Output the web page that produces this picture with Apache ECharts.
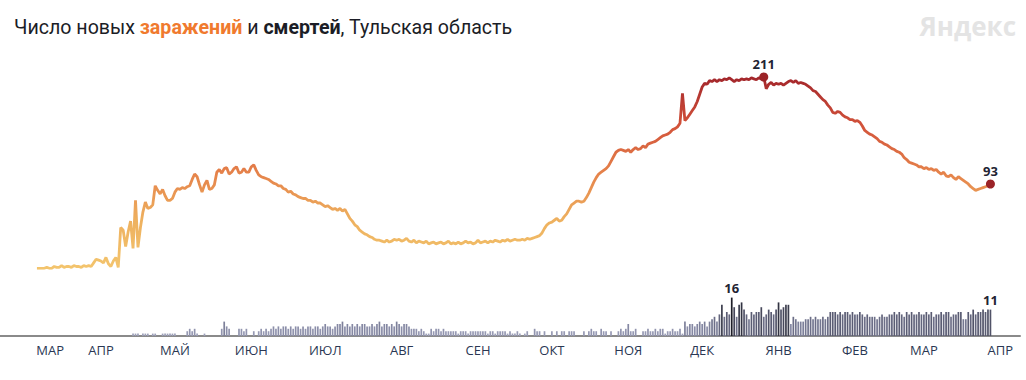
<!DOCTYPE html>
<html><head><meta charset="utf-8">
<script src="https://cdn.jsdelivr.net/npm/echarts@6/dist/echarts.min.js"></script>
<style>html,body{margin:0;padding:0;background:#fff}#c{width:1026px;height:380px}</style>
</head><body><div id="c"></div>
<script>
// ---- axis range (daily categories) ----
const axisStart = '2020-02-20';
const axisEnd = '2021-04-09';

// ---- new infections per day, starting infectionsStart ----
const infectionsStart = '2020-03-06';
const infections = [
  0,0,0,0,1,0,0,2,1,1,
  3,1,2,2,1,3,2,2,1,3,
  2,3,2,6,10,9,8,6,12,5,
  2,8,12,1,45,42,24,40,52,22,
  75,23,45,62,73,66,67,70,91,86,
  82,87,80,75,75,77,84,88,87,89,
  88,90,91,98,104,101,92,84,92,97,
  87,88,92,106,109,105,110,111,104,106,
  110,112,105,106,110,106,106,112,114,108,
  103,101,100,99,98,96,94,93,91,91,
  88,87,84,85,82,81,79,78,77,77,
  75,75,73,74,72,72,70,68,69,67,
  65,66,64,66,63,65,60,55,52,48,
  46,42,40,38,37,35,34,32,31,31,
  30,29,31,29,30,32,31,32,30,31,
  33,30,29,31,28,30,29,28,30,27,
  28,29,27,28,29,27,28,30,27,28,
  27,29,27,28,30,28,29,27,28,31,
  28,29,30,28,30,29,31,30,29,31,
  30,32,30,31,32,31,31,32,31,33,
  32,33,34,35,36,39,44,48,50,51,
  53,55,52,53,57,60,65,70,72,74,
  74,73,74,78,83,89,95,100,104,106,
  108,110,113,118,123,128,130,131,130,129,
  131,128,131,133,131,132,135,133,137,138,
  139,140,142,144,146,147,148,150,153,154,
  156,160,193,163,166,170,174,178,184,192,
  200,204,203,207,206,208,206,208,207,209,
  208,210,208,206,208,207,209,208,209,208,
  210,209,208,210,209,211,198,203,205,202,
  204,203,204,202,204,206,207,205,207,204,
  205,204,203,201,199,196,195,192,189,186,
  184,180,177,172,171,173,172,169,167,166,
  164,164,162,163,161,157,152,150,148,147,
  145,143,140,139,137,136,134,132,131,129,
  128,126,122,120,117,116,115,114,112,112,
  110,111,109,110,108,109,106,104,106,102,
  101,103,100,98,101,99,97,95,93,90,
  88,86,87,88,89,90,91,93
];

// ---- deaths per day, starting deathsStart ----
const deathsStart = '2020-04-14';
const deaths = [
  1,1,1,0,1,1,1,0,1,1,
  0,0,1,1,1,1,1,1,0,0,
  0,0,2,3,2,3,1,0,0,1,
  0,0,0,0,0,0,3,6,4,3,
  0,0,0,3,3,2,3,0,0,2,
  0,2,3,2,3,2,3,4,3,4,
  3,4,4,3,4,3,4,4,3,4,
  3,4,4,3,4,4,3,4,5,4,
  4,3,4,5,5,6,4,5,4,5,
  4,5,4,5,5,4,4,5,4,5,
  6,4,5,5,4,5,4,6,5,4,
  5,5,4,3,3,3,2,3,2,1,
  1,3,2,3,3,2,3,2,2,2,
  2,2,1,2,2,2,1,2,2,2,
  2,2,2,2,1,2,2,1,2,2,
  2,2,1,2,1,1,2,1,0,1,
  2,0,0,3,2,2,0,2,0,0,
  2,0,2,0,2,2,0,2,2,2,
  0,0,0,2,0,2,3,2,2,0,
  3,2,2,0,2,0,0,2,3,2,
  3,5,2,2,3,0,0,2,2,3,
  2,2,3,2,3,3,1,2,2,3,
  2,2,3,1,6,4,5,5,4,5,
  6,5,6,4,6,7,8,6,9,13,
  8,10,9,16,12,8,13,14,11,9,
  7,10,9,10,10,12,8,9,11,10,
  9,11,14,11,12,13,13,5,8,7,
  6,6,6,7,7,8,7,8,7,7,
  8,7,8,10,10,10,9,10,9,10,
  10,9,10,9,9,10,9,8,9,8,
  8,8,7,8,9,8,8,9,9,10,
  9,10,9,8,10,9,10,9,9,10,
  9,9,10,9,10,8,9,9,10,9,
  10,10,8,9,9,10,10,7,7,10,
  9,11,9,10,10,11,10,11,11
];

// ---- month tick labels ----
const monthTicks = ['2020-03-01','2020-04-01','2020-05-01','2020-06-01','2020-07-01','2020-08-01','2020-09-01',
  '2020-10-01','2020-11-01','2020-12-01','2021-01-01','2021-02-01','2021-03-01','2021-04-01'];
const monthLabels = ['МАР','АПР','МАЙ','ИЮН','ИЮЛ','АВГ','СЕН','ОКТ','НОЯ','ДЕК','ЯНВ','ФЕВ','МАР','АПР'];

function dayList(a, b) {
  const out = [];
  let t = Date.parse(a + 'T00:00:00Z');
  const e = Date.parse(b + 'T00:00:00Z');
  while (t <= e) { out.push(new Date(t).toISOString().slice(0, 10)); t += 86400000; }
  return out;
}
const days = dayList(axisStart, axisEnd);
function alignTo(start, values) {
  const off = days.indexOf(start);
  return days.map((d, i) => (i >= off && i - off < values.length) ? values[i - off] : null);
}

const infData = alignTo(infectionsStart, infections);
const infMax = Math.max(...infections);
const infMaxDay = days[days.indexOf(infectionsStart) + infections.indexOf(infMax)];
const infLast = infections[infections.length - 1];
const infLastDay = days[days.indexOf(infectionsStart) + infections.length - 1];

const dMax = Math.max(...deaths);
const dMaxI = days.indexOf(deathsStart) + deaths.indexOf(dMax);
const dLastI = days.indexOf(deathsStart) + deaths.length - 1;
const labelStyle = { show: true, position: 'top', distance: 3, color: '#1f2433', fontWeight: 'bold', fontSize: 13, fontFamily: 'Open Sans' };
const deathData = alignTo(deathsStart, deaths).map((v, i) =>
  (i === dMaxI || i === dLastI) ? { value: v, label: labelStyle } : v);

const chart = echarts.init(document.getElementById('c'), null, { renderer: 'svg' });
chart.setOption({
  animation: false,
  backgroundColor: '#fff',
  title: [{
    left: 9, top: 12,
    text: '{n|Число новых }{o|заражений}{n| и }{b|смертей}{n|, Тульская область}',
    textStyle: {
      fontWeight: 'normal',
      rich: {
        n: { fontSize: 19.6, color: '#1b1d26', fontWeight: 'normal', fontFamily: 'Roboto' },
        o: { fontSize: 19.6, color: '#f07a2e', fontWeight: 'bold', fontFamily: 'Roboto' },
        b: { fontSize: 19.6, color: '#1b1d26', fontWeight: 'bold', fontFamily: 'Roboto' }
      }
    }
  }, {
    right: 5, top: 8,
    text: 'Яндекс',
    textStyle: { fontSize: 26, color: '#e4e4e4', fontWeight: 'bold', fontFamily: 'Open Sans' }
  }],
  grid: [
    { left: 0, right: 6, top: 77, bottom: 111.7 },
    { left: 0, right: 6, top: 297.6, bottom: 44 }
  ],
  xAxis: [
    { type: 'category', gridIndex: 0, data: days, boundaryGap: false, show: false },
    { type: 'category', gridIndex: 1, data: days, boundaryGap: false,
      axisLine: { show: true, lineStyle: { color: '#8a8a8a', width: 2 } },
      axisTick: { show: false },
      axisLabel: {
        interval: (i, v) => monthTicks.indexOf(v) >= 0,
        formatter: (v) => {
          const k = monthTicks.indexOf(v);
          return k === 0 ? '{first|' + monthLabels[k] + '}' : monthLabels[k];
        },
        color: '#2a3753', fontSize: 13, fontFamily: 'Open Sans', margin: 7,
        rich: { first: { padding: [0, 0, 0, 51], color: '#2a3753', fontSize: 13, fontFamily: 'Open Sans' } }
      }
    }
  ],
  yAxis: [
    { type: 'value', gridIndex: 0, min: 0, max: 'dataMax', show: false },
    { type: 'value', gridIndex: 1, min: 0, max: 'dataMax', show: false }
  ],
  visualMap: [
    { type: 'continuous', show: false, seriesIndex: 0, min: 0, max: 211,
      inRange: { color: ['#f3c46d', '#eeb15f', '#e5824a', '#d2523a', '#a3262b'] } },
    { type: 'continuous', show: false, seriesIndex: 1, min: 0, max: 16,
      inRange: { color: ['#a3a6bf', '#8386a1', '#54566c', '#1e1e28'] } }
  ],
  series: [
    { type: 'line', xAxisIndex: 0, yAxisIndex: 0, data: infData, showSymbol: false,
      lineStyle: { width: 2.8 }, connectNulls: false,
      markPoint: {
        symbol: 'circle', symbolSize: 9,
        itemStyle: { color: '#9b2327' },
        label: { show: true, position: 'top', distance: 2, color: '#1f2433', fontWeight: 'bold', fontSize: 13, fontFamily: 'Open Sans', formatter: '{c}' },
        data: [ { coord: [infMaxDay, infMax], value: infMax }, { coord: [infLastDay, infLast], value: infLast } ]
      }
    },
    { type: 'bar', xAxisIndex: 1, yAxisIndex: 1, data: deathData, barWidth: 1.7 }
  ]
});
</script></body></html>
